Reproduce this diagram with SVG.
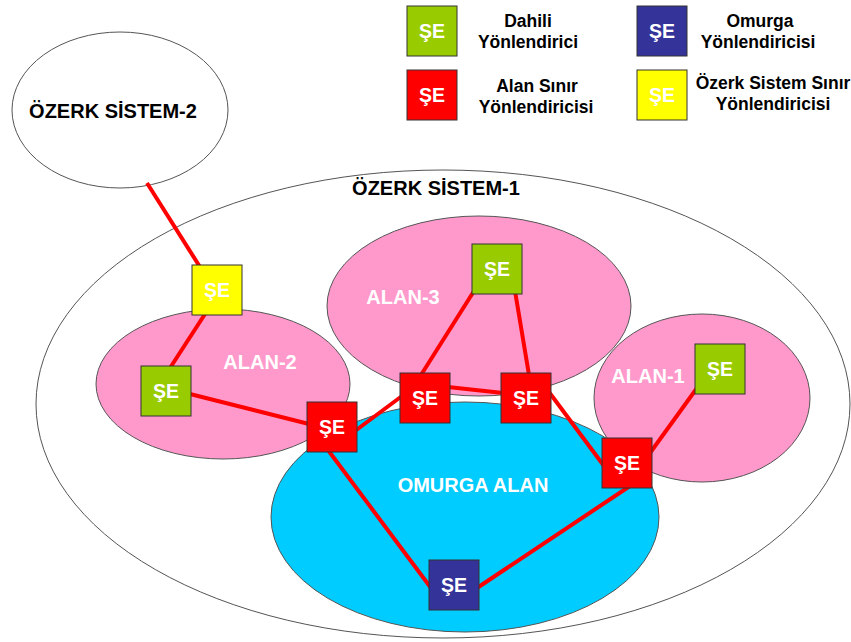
<svg xmlns="http://www.w3.org/2000/svg" width="851" height="642" viewBox="0 0 851 642">
  <style>
    text { font-family: "Liberation Sans", Arial, sans-serif; font-weight: bold; }
    .area { stroke: #555; stroke-width: 1; }
    .pink { fill: #FF99CC; }
    .as { fill: #FFFFFF; }
    .bb { fill: #00CCFF; }
    .lbl-w { fill: #FFFFFF; font-size: 20px; text-anchor: middle; }
    .lbl-k { fill: #000000; font-size: 20px; text-anchor: middle; }
    .rt { stroke: #333; stroke-width: 1; }
    .int { fill: #99CC00; }
    .abr { fill: #FF0000; }
    .bbr { fill: #333399; }
    .asbr { fill: #FFFF00; }
    .rt-t { fill: #FFFFFF; font-size: 19.5px; text-anchor: middle; }
    .leg { fill: #000000; font-size: 17.5px; text-anchor: middle; }
    .link { stroke: #FF0000; stroke-width: 4; fill: none; }
  </style>

  <!-- autonomous systems and areas -->
  <g id="as2">
    <ellipse class="area as" cx="120" cy="110" rx="108" ry="78"/>
    <text class="lbl-k" x="113" y="118">ÖZERK SİSTEM-2</text>
  </g>
  <g id="as1">
    <ellipse class="area as" cx="443" cy="404" rx="407" ry="234"/>
    <text class="lbl-k" x="436" y="195">ÖZERK SİSTEM-1</text>
  </g>
  <g id="alan3">
    <ellipse class="area pink" cx="479" cy="306" rx="152" ry="90"/>
    <text class="lbl-w" x="403" y="304">ALAN-3</text>
  </g>
  <g id="alan1">
    <ellipse class="area pink" cx="702" cy="398" rx="108" ry="84"/>
    <text class="lbl-w" x="648" y="383">ALAN-1</text>
  </g>
  <g id="alan2">
    <ellipse class="area pink" cx="223" cy="384" rx="127" ry="75"/>
    <text class="lbl-w" x="260" y="369">ALAN-2</text>
  </g>
  <g id="omurga">
    <ellipse class="area bb" cx="465" cy="517" rx="194" ry="115"/>
    <text class="lbl-w" x="473" y="492">OMURGA ALAN</text>
  </g>

  <!-- links between routers -->
  <g id="connectors">
    <line class="link" x1="147" y1="183" x2="200" y2="267"/>
    <line class="link" x1="205" y1="314" x2="170" y2="368"/>
    <line class="link" x1="190" y1="394" x2="309" y2="424"/>
    <line class="link" x1="355" y1="431" x2="402" y2="396"/>
    <line class="link" x1="421" y1="375" x2="474" y2="291"/>
    <line class="link" x1="515" y1="291" x2="529" y2="375"/>
    <line class="link" x1="448" y1="387" x2="503" y2="393"/>
    <line class="link" x1="549" y1="392" x2="604" y2="466"/>
    <line class="link" x1="650" y1="453" x2="697" y2="388"/>
    <line class="link" x1="630" y1="486" x2="477" y2="588"/>
    <line class="link" x1="328" y1="450" x2="431" y2="588"/>
  </g>

  <!-- routers -->
  <g id="r-asbr">
    <rect class="rt asbr" x="192" y="265" width="50" height="50"/>
    <text class="rt-t" x="217" y="297">ŞE</text>
  </g>
  <g id="r-int2">
    <rect class="rt int" x="141" y="366" width="50" height="50"/>
    <text class="rt-t" x="166" y="398">ŞE</text>
  </g>
  <g id="r-abr2">
    <rect class="rt abr" x="307" y="402" width="50" height="50"/>
    <text class="rt-t" x="332" y="434">ŞE</text>
  </g>
  <g id="r-int3">
    <rect class="rt int" x="472" y="244" width="50" height="50"/>
    <text class="rt-t" x="497" y="276">ŞE</text>
  </g>
  <g id="r-abr3a">
    <rect class="rt abr" x="400" y="373" width="50" height="50"/>
    <text class="rt-t" x="425" y="405">ŞE</text>
  </g>
  <g id="r-abr3b">
    <rect class="rt abr" x="501" y="373" width="50" height="50"/>
    <text class="rt-t" x="526" y="405">ŞE</text>
  </g>
  <g id="r-int1">
    <rect class="rt int" x="695" y="344" width="50" height="50"/>
    <text class="rt-t" x="720" y="376">ŞE</text>
  </g>
  <g id="r-abr1">
    <rect class="rt abr" x="602" y="438" width="50" height="50"/>
    <text class="rt-t" x="627" y="470">ŞE</text>
  </g>
  <g id="r-bb">
    <rect class="rt bbr" x="429" y="560" width="50" height="50"/>
    <text class="rt-t" x="454" y="592">ŞE</text>
  </g>

  <!-- legend -->
  <g id="legend-int">
    <rect class="rt int" x="407" y="6" width="50" height="50"/>
    <text class="rt-t" x="432" y="38">ŞE</text>
    <text class="leg" x="528" y="27">Dahili</text>
    <text class="leg" x="528" y="48">Yönlendirici</text>
  </g>
  <g id="legend-abr">
    <rect class="rt abr" x="407" y="70" width="50" height="50"/>
    <text class="rt-t" x="432" y="102">ŞE</text>
    <text class="leg" x="537" y="92">Alan Sınır</text>
    <text class="leg" x="536" y="113">Yönlendiricisi</text>
  </g>
  <g id="legend-bb">
    <rect class="rt bbr" x="637" y="6" width="50" height="50"/>
    <text class="rt-t" x="662" y="38">ŞE</text>
    <text class="leg" x="760" y="27">Omurga</text>
    <text class="leg" x="758" y="48">Yönlendiricisi</text>
  </g>
  <g id="legend-asbr">
    <rect class="rt asbr" x="637" y="70" width="50" height="50"/>
    <text class="rt-t" x="662" y="102">ŞE</text>
    <text class="leg" x="773" y="89">Özerk Sistem Sınır</text>
    <text class="leg" x="773" y="110">Yönlendiricisi</text>
  </g>
</svg>
